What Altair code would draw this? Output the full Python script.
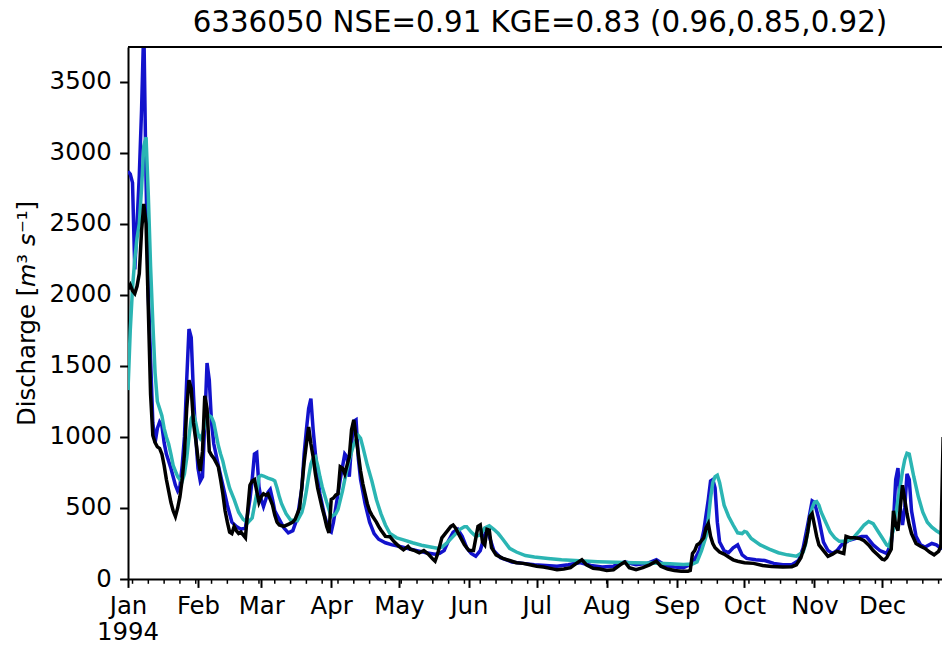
import altair as alt
import pandas as pd

START = pd.Timestamp("1994-01-01")

TITLE = "6336050 NSE=0.91 KGE=0.83 (0.96,0.85,0.92)"
Y_TITLE = "Discharge [𝘮³ 𝘴⁻¹]"
YEAR_LABEL = "1994"
Y_TICKS = [0, 500, 1000, 1500, 2000, 2500, 3000, 3500]

# Observed discharge (day of year, 0 = 1 Jan 1994; m3/s)
obs_day = [0, 1, 2, 3, 4, 5, 6, 7, 8, 9, 10, 11, 12, 13, 14, 15, 16, 17, 18, 19,
           20, 21, 22, 23, 24, 25, 26, 27, 28, 29, 30, 31, 32, 33, 34, 35, 36, 37, 38, 39,
           40, 41, 42, 43, 44, 45, 46, 47, 48, 49, 50, 51, 52, 53, 54, 55, 56, 57, 58, 59,
           60, 61, 62, 63, 64, 65, 66, 67, 69, 71, 73, 74, 76, 77, 78, 79, 80, 81, 82, 83,
           84, 86, 87, 88, 89, 90, 91, 92, 93, 94, 95, 96, 97, 98, 99, 100, 101, 102, 103, 104,
           105, 106, 107, 108, 110, 111, 112, 114, 116, 118, 120, 122, 124, 125, 127, 129, 131, 133, 135, 136,
           137, 139, 141, 143, 144, 145, 147, 149, 151, 153, 155, 156, 157, 158, 159, 160, 161, 163, 166, 169,
           172, 175, 178, 181, 184, 187, 190, 193, 196, 199, 201, 203, 206, 209, 212, 215, 218, 220, 222, 225,
           228, 231, 234, 236, 239, 242, 245, 248, 249, 250, 251, 252, 253, 255, 256, 257, 258, 259, 260, 262,
           264, 266, 268, 270, 273, 277, 281, 285, 290, 294, 296, 298, 300, 301, 302, 303, 304, 305, 306, 308,
           310, 312, 314, 316, 317, 318, 320, 322, 324, 326, 328, 330, 332, 334, 335, 336, 338, 339, 340, 341,
           342, 343, 344, 345, 346, 347, 349, 351, 353, 355, 357, 359, 360, 361]
obs_q = [2040, 2070, 2030, 2010, 2060, 2150, 2450, 2640, 2500, 1900, 1300, 1010, 960, 930, 920, 880, 800, 700, 620, 540,
         480, 440, 500, 580, 700, 880, 1200, 1400, 1340, 1100, 980, 850, 760, 900, 1290, 1200, 900, 870, 850, 820,
         790, 700, 600, 480, 400, 330, 320, 370, 340, 320, 330, 310, 290, 480, 660, 690, 700, 620, 540, 580,
         600, 590, 600, 560, 520, 450, 400, 380, 370, 385, 400, 420, 500, 650, 820, 950, 1070, 950, 860, 740,
         640, 500, 440, 370, 325, 560, 570, 590, 600, 790, 780, 740, 800, 860, 1050, 1120, 1000, 880, 760, 670,
         600, 530, 480, 450, 400, 370, 345, 300, 298, 260, 230, 205, 230, 210, 200, 185, 200, 175, 140, 125,
         170, 290, 330, 370, 380, 360, 300, 240, 200, 200, 370, 380, 260, 240, 350, 345, 220, 170, 145, 130,
         115, 110, 100, 90, 85, 75, 65, 70, 80, 115, 135, 100, 75, 70, 60, 65, 100, 120, 80, 65,
         80, 100, 125, 90, 70, 60, 55, 55, 60, 180, 200, 240, 250, 290, 360, 390, 300, 250, 220, 190,
         175, 155, 135, 125, 115, 110, 95, 88, 85, 87, 100, 150, 250, 330, 440, 460, 380, 300, 240, 200,
         160, 175, 195, 185, 180, 300, 290, 290, 285, 270, 240, 200, 170, 140, 135, 150, 210, 480, 380, 340,
         500, 660, 560, 460, 380, 320, 250, 230, 215, 190, 170, 195, 230, 1000]

# First simulation (blue)
sim_a_day = [0, 1, 2, 3, 4, 5, 6, 7, 8, 9, 10, 11, 12, 13, 14, 15, 16, 17, 19, 21,
             22, 23, 24, 25, 26, 27, 28, 29, 30, 31, 32, 33, 34, 35, 36, 37, 38, 40, 42, 44,
             46, 48, 50, 52, 54, 55, 56, 57, 58, 59, 60, 61, 62, 63, 64, 65, 67, 69, 71, 73,
             75, 77, 78, 79, 80, 81, 82, 83, 84, 85, 87, 89, 90, 91, 92, 94, 96, 97, 98, 99,
             100, 101, 102, 103, 105, 107, 109, 111, 114, 117, 120, 124, 128, 132, 136, 138, 140, 142, 144, 146,
             148, 150, 152, 154, 156, 158, 159, 160, 162, 165, 170, 175, 180, 185, 190, 195, 200, 205, 210, 215,
             220, 225, 230, 234, 238, 242, 246, 250, 253, 255, 257, 258, 259, 260, 261, 262, 264, 266, 268, 270,
             272, 274, 278, 282, 286, 290, 294, 297, 299, 301, 303, 304, 306, 308, 310, 312, 314, 316, 319, 322,
             325, 327, 330, 333, 336, 338, 339, 340, 341, 342, 343, 344, 345, 346, 347, 349, 351, 353, 356, 358,
             360, 361]
sim_a_q = [2870, 2850, 2790, 2180, 2500, 2840, 3300, 3900, 2800, 2000, 1550, 1100, 960, 1060, 1105, 1080, 960, 880, 780, 660,
           620, 650, 800, 1000, 1400, 1760, 1700, 1300, 1000, 780, 690, 720, 1100, 1520, 1400, 1100, 950, 800, 660, 520,
           400, 370, 350, 360, 560, 700, 880, 890, 650, 560, 510, 560, 610, 630, 560, 480, 420, 360, 325, 340,
           430, 640, 880, 1050, 1200, 1270, 1050, 880, 720, 600, 450, 340, 330, 400, 500, 700, 880, 860, 720, 950,
           1110, 1120, 850, 700, 530, 400, 320, 280, 255, 240, 230, 215, 200, 185, 175, 180, 200, 270, 330, 350,
           300, 220, 180, 160, 200, 310, 345, 300, 200, 150, 120, 110, 100, 95, 90, 100, 115, 95, 85, 90,
           120, 100, 110, 135, 95, 85, 80, 110, 200, 340, 560, 690, 700, 640, 400, 260, 200, 185, 220, 240,
           170, 145, 135, 130, 110, 100, 100, 130, 220, 380, 550, 540, 420, 260, 200, 180, 200, 240, 270, 285,
           300, 300, 240, 200, 180, 250, 400, 700, 780, 500, 380, 500, 740, 700, 480, 300, 240, 225, 250, 240,
           215, 225]

# Second simulation (cyan)
sim_b_day = [0, 1, 2, 3, 4, 5, 6, 7, 8, 9, 10, 11, 12, 13, 14, 15, 16, 17, 18, 19,
             20, 21, 22, 23, 24, 25, 26, 27, 28, 29, 30, 31, 32, 33, 34, 35, 36, 37, 38, 39,
             40, 41, 42, 43, 45, 47, 49, 51, 53, 55, 57, 58, 59, 60, 62, 64, 65, 66, 67, 68,
             70, 72, 75, 77, 78, 79, 80, 81, 82, 83, 84, 85, 86, 88, 90, 92, 93, 95, 96, 98,
             100, 102, 103, 104, 106, 108, 110, 112, 114, 116, 119, 122, 126, 130, 134, 137, 139, 141, 144, 147,
             149, 150, 152, 154, 156, 158, 160, 162, 164, 166, 169, 172, 176, 180, 186, 192, 200, 208, 216, 224,
             232, 240, 246, 250, 252, 254, 256, 257, 258, 259, 260, 261, 262, 263, 264, 266, 268, 270, 272, 273,
             274, 276, 280, 284, 288, 292, 296, 299, 300, 301, 302, 303, 304, 305, 306, 307, 309, 311, 313, 315,
             318, 321, 324, 326, 328, 330, 332, 334, 336, 337, 338, 339, 340, 341, 342, 343, 344, 345, 346, 347,
             348, 350, 352, 354, 356, 358, 360, 361]
sim_b_q = [1330, 1750, 2050, 2250, 2400, 2500, 2750, 3050, 3110, 2700, 2200, 1800, 1450, 1250, 1200, 1150, 1060, 1000, 950, 880,
           800, 760, 720, 700, 690, 740, 850, 1000, 1130, 1160, 1100, 1020, 990, 1020, 1080, 1130, 1150, 1140, 1100, 1020,
           940, 880, 830, 760, 640, 560, 470, 420, 395, 430, 600, 720, 730, 725, 710, 700, 690, 640, 580, 530,
           460, 415, 410, 470, 530, 620, 720, 810, 850, 860, 800, 720, 650, 540, 440, 460, 490, 620, 700, 840,
           950, 1010, 990, 930, 800, 690, 560, 460, 380, 320, 290, 275, 255, 238, 225, 216, 225, 250, 300, 350,
           368, 368, 330, 300, 310, 360, 375, 350, 320, 280, 216, 190, 165, 155, 145, 135, 128, 122, 118, 115,
           112, 108, 102, 105, 120, 200, 300, 420, 570, 680, 720, 730, 680, 600, 520, 440, 380, 325, 320, 335,
           330, 285, 240, 210, 185, 170, 160, 190, 240, 330, 430, 500, 540, 545, 520, 470, 400, 330, 290, 265,
           265, 285, 340, 380, 405, 390, 340, 290, 240, 230, 290, 350, 450, 560, 650, 760, 840, 885, 880, 800,
           720, 580, 470, 400, 365, 340, 320, 315]

# Weekly (Monday) minor ticks along the date axis
minor_ticks = pd.date_range("1994-01-03", "1994-12-27", freq="7D")

W, H = 814, 532
FONT = "DejaVu Sans"
TICK_FONT = 24.4
Y_MAX = 3745
TICK_LEN = 8.4
X_LABEL_PAD = 7


def frame(days, values):
    dates = START + pd.to_timedelta(days, unit="D")
    return pd.DataFrame({"date": dates.strftime("%Y-%m-%d"), "q": values})


x_scale = alt.Scale(
    type="utc",
    domain=[alt.DateTime(year=1994, month=1, date=1, utc=True),
            alt.DateTime(year=1994, month=12, date=27, hours=12, utc=True)],
    nice=False,
)
y_scale = alt.Scale(domain=[0, Y_MAX], nice=False, zero=True)

x_axis = alt.Axis(
    values=[alt.DateTime(year=1994, month=m, date=1, utc=True) for m in range(1, 13)],
    format="%b",
    title=None, grid=False, labelFlush=False, labelOverlap=False,
    labelFont=FONT, labelFontSize=TICK_FONT, labelColor="black",
    labelPadding=X_LABEL_PAD, labelBaseline="top", tickSize=TICK_LEN, tickWidth=2, tickColor="black",
    domainColor="black", domainWidth=2,
)
y_axis = alt.Axis(
    values=Y_TICKS, format="d", title=Y_TITLE, grid=False, labelFlush=False,
    labelFont=FONT, labelFontSize=TICK_FONT, labelColor="black", labelPadding=8.4,
    tickSize=TICK_LEN, tickWidth=2, tickColor="black", domainColor="black", domainWidth=2,
    titleFont=FONT, titleFontSize=TICK_FONT, titleFontWeight="normal", titleColor="black",
    titleAngle=-90, titleX=-89, titleY=H / 2, titleBaseline="bottom", titleAlign="center",
)

X_ENC = dict(scale=x_scale, axis=x_axis)
Y_ENC = dict(scale=y_scale, axis=y_axis)


def series_layer(df, color):
    return alt.Chart(df).mark_line(color=color, strokeWidth=3.5, clip=True).encode(
        x=alt.X("date:T", **X_ENC),
        y=alt.Y("q:Q", **Y_ENC),
    )


blue = series_layer(frame(sim_a_day, sim_a_q), "#1212cc")
cyan = series_layer(frame(sim_b_day, sim_b_q), "#2bb5b3")
black = series_layer(frame(obs_day, obs_q), "#000000")

minor = alt.Chart(pd.DataFrame({"date": minor_ticks.strftime("%Y-%m-%d")})).mark_rule(
    color="black", strokeWidth=1.5
).encode(
    x=alt.X("date:T", **X_ENC),
    y=alt.value(H),
    y2=alt.value(H + 4.8),
)

one_row = pd.DataFrame({"k": [0]})

top_spine = alt.Chart(one_row).mark_rule(color="black", strokeWidth=2).encode(
    x=alt.value(0), x2=alt.value(W), y=alt.value(0)
)

heading = alt.Chart(one_row).mark_text(
    font=FONT, fontSize=29.3, color="black", align="center", baseline="alphabetic"
).encode(
    x=alt.value(W / 2 + 5), y=alt.value(-14.6), text=alt.value(TITLE)
)

# year shown on a second line beneath the first month label
year_text = alt.Chart(one_row).mark_text(
    font=FONT, fontSize=TICK_FONT, color="black", align="center", baseline="top"
).encode(
    x=alt.value(0), y=alt.value(H + TICK_LEN + X_LABEL_PAD + 27), text=alt.value(YEAR_LABEL)
)

chart = alt.layer(blue, cyan, black, minor, top_spine, heading, year_text).properties(
    width=W,
    height=H,
    autosize=alt.AutoSizeParams(type="none"),
    padding={"left": 128, "top": 47, "right": 0, "bottom": 71},
).configure_view(stroke=None).configure(background="white")

chart.save("out.html", embed_options={"renderer": "svg", "actions": False})
